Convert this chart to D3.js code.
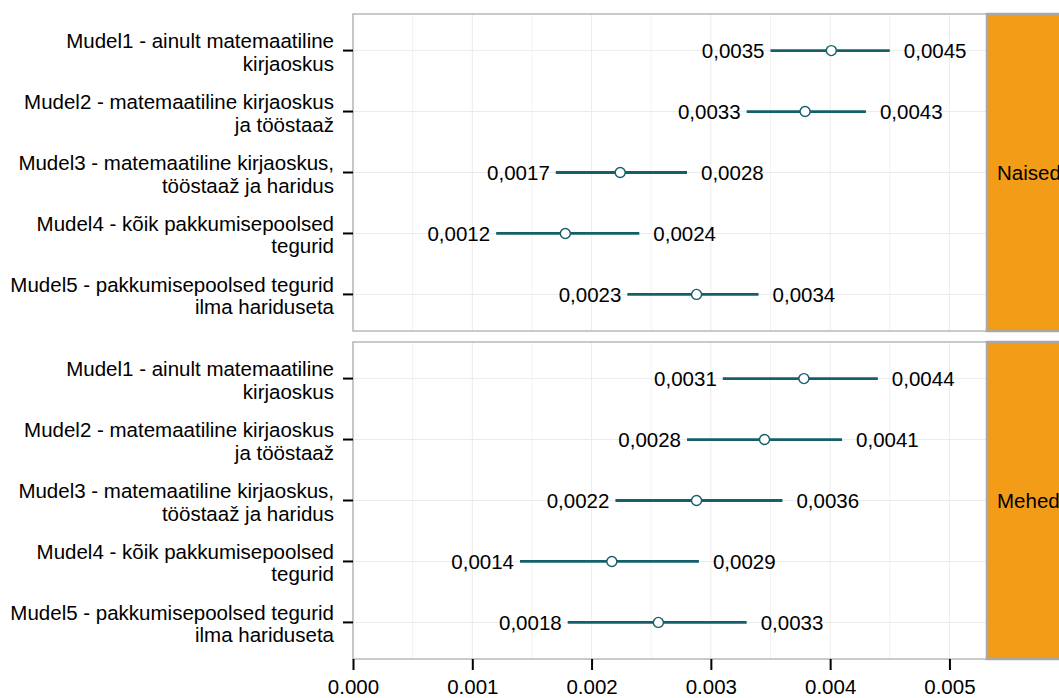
<!DOCTYPE html>
<html>
<head>
<meta charset="utf-8">
<script src="https://cdn.jsdelivr.net/npm/d3@7"></script>
<style>
  html, body { margin: 0; padding: 0; background: #fff; }
  svg { display: block; font-family: "Liberation Sans", Arial, sans-serif; }
</style>
</head>
<body>
<svg id="chart" width="1059" height="698"></svg>
<script>
// Model labels (two lines each)
const models = [
  ["Mudel1 - ainult matemaatiline", "kirjaoskus"],
  ["Mudel2 - matemaatiline kirjaoskus", "ja tööstaaž"],
  ["Mudel3 - matemaatiline kirjaoskus,", "tööstaaž ja haridus"],
  ["Mudel4 - kõik pakkumisepoolsed", "tegurid"],
  ["Mudel5 - pakkumisepoolsed tegurid", "ilma hariduseta"]
];
const groups = ["Naised", "Mehed"];

// Point estimates and confidence bounds per group
const naisedEst   = [0.00401, 0.00379, 0.00224, 0.00178, 0.00288];
const naisedLower = [0.0035, 0.0033, 0.0017, 0.0012, 0.0023];
const naisedUpper = [0.0045, 0.0043, 0.0028, 0.0024, 0.0034];
const mehedEst    = [0.00378, 0.00345, 0.00288, 0.00217, 0.00256];
const mehedLower  = [0.0031, 0.0028, 0.0022, 0.0014, 0.0018];
const mehedUpper  = [0.0044, 0.0041, 0.0036, 0.0029, 0.0033];

const xTicks = [0, 0.001, 0.002, 0.003, 0.004, 0.005];
const xMinor = [0.0005, 0.0015, 0.0025, 0.0035, 0.0045];

const panels = [
  { name: groups[0], est: naisedEst, lo: naisedLower, hi: naisedUpper },
  { name: groups[1], est: mehedEst,  lo: mehedLower,  hi: mehedUpper }
];

const svg = d3.select("#chart");
const panelLeft = 353, panelRight = 987;
const panelTops = [14, 342], panelH = 317;
const stripW = 90;
const teal = "#155f6a";
const fs = 20.5;
const fmtComma = v => v.toFixed(4).replace(".", ",");

const x = d3.scaleLinear().domain([0, 0.005315]).range([panelLeft, panelRight]);

panels.forEach((p, pi) => {
  const top = panelTops[pi];
  const y = d3.scalePoint()
    .domain(d3.range(models.length))
    .range([top, top + panelH])
    .padding(0.6);

  const g = svg.append("g");

  // gridlines
  g.selectAll(".minor").data(xMinor).join("line")
    .attr("x1", d => x(d)).attr("x2", d => x(d))
    .attr("y1", top).attr("y2", top + panelH)
    .attr("stroke", "#f2f2f2").attr("stroke-width", 1);
  g.selectAll(".major").data(xTicks).join("line")
    .attr("x1", d => x(d)).attr("x2", d => x(d))
    .attr("y1", top).attr("y2", top + panelH)
    .attr("stroke", "#ebebeb").attr("stroke-width", 1);
  g.selectAll(".hgrid").data(d3.range(models.length)).join("line")
    .attr("x1", panelLeft).attr("x2", panelRight)
    .attr("y1", d => y(d)).attr("y2", d => y(d))
    .attr("stroke", "#ebebeb").attr("stroke-width", 1);

  // panel border
  g.append("rect")
    .attr("x", panelLeft).attr("y", top)
    .attr("width", panelRight - panelLeft).attr("height", panelH)
    .attr("fill", "none").attr("stroke", "#b8b8b8").attr("stroke-width", 1.5);

  // strip
  g.append("rect")
    .attr("x", panelRight).attr("y", top)
    .attr("width", stripW).attr("height", panelH)
    .attr("fill", "#f39c18").attr("stroke", "#a8a8a8").attr("stroke-width", 2.5);
  g.append("text")
    .attr("x", panelRight + 10).attr("y", top + panelH / 2)
    .attr("dy", "0.35em").attr("font-size", fs).attr("fill", "#000")
    .text(p.name);

  // y ticks and labels
  models.forEach((m, i) => {
    g.append("line")
      .attr("x1", panelLeft - 10).attr("x2", panelLeft)
      .attr("y1", y(i)).attr("y2", y(i))
      .attr("stroke", "#000").attr("stroke-width", 2);
    const t = g.append("text")
      .attr("text-anchor", "end").attr("font-size", fs).attr("fill", "#000");
    t.append("tspan").attr("x", 334).attr("y", y(i) - 2.5).text(m[0]);
    t.append("tspan").attr("x", 334).attr("y", y(i) + 20).text(m[1]);
  });

  // intervals
  g.selectAll(".ci").data(d3.range(models.length)).join("line")
    .attr("x1", i => x(p.lo[i])).attr("x2", i => x(p.hi[i]))
    .attr("y1", i => y(i)).attr("y2", i => y(i))
    .attr("stroke", teal).attr("stroke-width", 2.8);
  g.selectAll(".pt").data(d3.range(models.length)).join("circle")
    .attr("cx", i => x(p.est[i])).attr("cy", i => y(i)).attr("r", 5)
    .attr("fill", "#fff").attr("stroke", teal).attr("stroke-width", 1.4);

  // bound labels
  g.selectAll(".lol").data(d3.range(models.length)).join("text")
    .attr("x", i => x(p.lo[i]) - 6).attr("y", i => y(i))
    .attr("dy", "0.35em").attr("text-anchor", "end")
    .attr("font-size", fs).attr("fill", "#000")
    .text(i => fmtComma(p.lo[i]));
  g.selectAll(".hil").data(d3.range(models.length)).join("text")
    .attr("x", i => x(p.hi[i]) + 14).attr("y", i => y(i))
    .attr("dy", "0.35em").attr("text-anchor", "start")
    .attr("font-size", fs).attr("fill", "#000")
    .text(i => fmtComma(p.hi[i]));
});

// bottom x axis
const axisY = panelTops[1] + panelH;
const axis = d3.axisBottom(x).tickValues(xTicks).tickFormat(d3.format(".3f")).tickSize(11).tickSizeOuter(0);
const ax = svg.append("g").attr("transform", `translate(0,${axisY})`).call(axis);
ax.select(".domain").remove();
ax.selectAll(".tick line").attr("stroke", "#000").attr("stroke-width", 2);
ax.selectAll(".tick text").attr("font-size", fs).attr("fill", "#000")
  .attr("font-family", "Liberation Sans, Arial, sans-serif").attr("y", 20).attr("dy", "0.71em");
</script>
</body>
</html>
